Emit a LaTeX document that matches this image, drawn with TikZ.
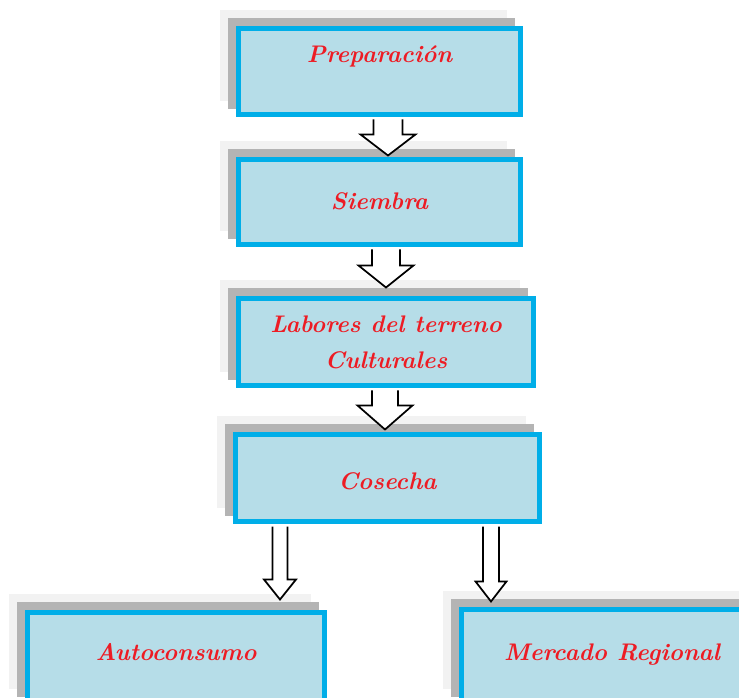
\documentclass[tikz,border=0pt]{standalone}
\usepackage{xcolor}
\usepackage{tikz}
\usetikzlibrary{shadows,calc,positioning}

\definecolor{cajafondo}{RGB}{182,221,232}
\definecolor{cajaborde}{RGB}{0,174,232}
\definecolor{textorojo}{RGB}{237,28,36}
\definecolor{sombraoscura}{RGB}{180,180,180}
\definecolor{sombraclara}{RGB}{242,242,242}

% flecha de bloque: origen, destino, medio cuerpo, media punta, largo punta
\newcommand{\flechabloque}[5]{%
  \draw[flecha] let \p1=#1, \p2=#2 in
    (\x1-#3,\y1) -- (\x1-#3,\y2+#5) -- (\x1-#4,\y2+#5) -- (\x1,\y2)
    -- (\x1+#4,\y2+#5) -- (\x1+#3,\y2+#5) -- (\x1+#3,\y1);
}

\begin{document}
\begin{tikzpicture}[
    x=0.75pt, y=-0.75pt,
    etapa/.style={draw=cajaborde, fill=cajafondo, line width=3.75pt,
        align=center, inner sep=0pt, text=textorojo,
        font=\fontsize{18}{27}\selectfont\bfseries\itshape,
        general shadow={shadow xshift=-12pt, shadow yshift=12pt,
            fill=sombraclara, draw=sombraclara},
        general shadow={shadow xshift=-6pt, shadow yshift=6pt,
            fill=sombraoscura, draw=sombraoscura}},
    flecha/.style={draw=black, fill=white, line width=1.3pt, line join=miter},
]
\useasboundingbox (0,0) rectangle (739,698);
\clip (0,0) rectangle (739,698);

% Etapas del cultivo
\node[etapa, minimum width=211.5pt, minimum height=64.5pt, text depth=26pt]
    (prep) at (379.5,71.5) {Preparación};
\node[etapa, minimum width=211.5pt, minimum height=63.75pt, text depth=2pt]
    (siem) at (379.5,202) {Siembra};
\node[etapa, minimum width=221.25pt, minimum height=65.25pt]
    (labo) at (386,342) {Labores del terreno\\Culturales};
\node[etapa, minimum width=228pt, minimum height=65.25pt, text height=18pt]
    (cose) at (387.5,478) {Cosecha};

% Destino de la cosecha
\node[etapa, minimum width=222.75pt, minimum height=67.5pt, text depth=8pt]
    (auto) at (176,657.5) {Autoconsumo};
\node[etapa, minimum width=225.75pt, minimum height=69.75pt, text depth=6pt]
    (merc) at (612,656) {Mercado Regional};

% Flechas
\flechabloque{($(prep.south)+(8.5,2.5)$)}{($(siem.north)+(8.5,-1.5)$)}{10.9pt}{20.6pt}{15.75pt}
\flechabloque{($(siem.south)+(6.5,2.5)$)}{($(labo.north)+(0,-8.5)$)}{10.5pt}{20.6pt}{16.5pt}
\flechabloque{($(labo.south)+(-1,2.5)$)}{($(cose.north)+(0,-2.5)$)}{9.75pt}{20.6pt}{18pt}
\flechabloque{($(cose.south)+(-107.5,2.5)$)}{($(auto.north)+(0,-10.5)$)}{5.6pt}{12pt}{15pt}
\flechabloque{($(cose.south)+(103.5,2.5)$)}{($(merc.north)+(0,-5.5)$)}{6pt}{11.6pt}{15pt}

\end{tikzpicture}
\end{document}
